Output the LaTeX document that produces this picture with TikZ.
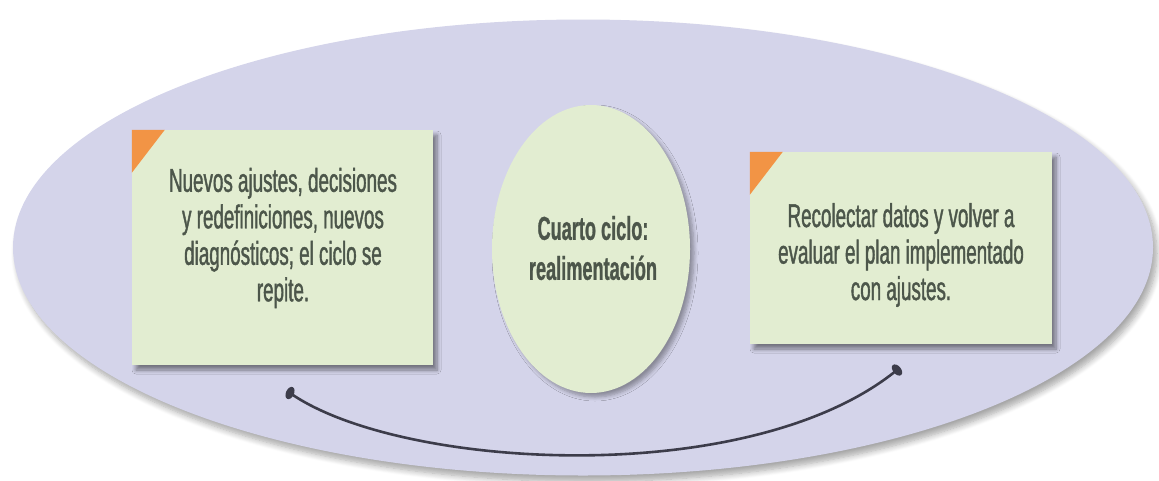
\documentclass[tikz,border=0pt]{standalone}
\usepackage{fontspec}
\newfontfamily\condfont{Liberation Sans}[FakeStretch=0.57,FakeBold=1.2]
\newfontfamily\condbold{Liberation Sans}[FakeStretch=0.55,FakeBold=0.8]
\usetikzlibrary{shapes.geometric,shadows.blur}
\definecolor{lav}{HTML}{D4D4EA}
\definecolor{boxgreen}{HTML}{E2EDD1}
\definecolor{corner}{HTML}{F29445}
\definecolor{txt}{HTML}{4C564A}
\definecolor{curvecol}{HTML}{3C3C4A}
\tikzset{
  bigoval/.style={ellipse, fill=lav, minimum width=1140, minimum height=456, inner sep=0pt,
    blur shadow={shadow xshift=4pt, shadow yshift=-6pt, shadow blur steps=8, shadow blur radius=6pt, shadow opacity=35}},
  notebox/.style={rectangle, fill=boxgreen, inner sep=0pt,
    blur shadow={shadow xshift=4pt, shadow yshift=-5pt, shadow blur steps=6, shadow blur radius=4pt, shadow opacity=45}},
  centeroval/.style={ellipse, fill=boxgreen, inner sep=0pt,
    blur shadow={shadow xshift=4pt, shadow yshift=-4pt, shadow blur steps=6, shadow blur radius=4pt, shadow opacity=35}},
  notetext/.style={text=txt, align=center, inner sep=0pt, font=\condfont\fontsize{33}{36.5}\selectfont},
  centertext/.style={text=txt, align=center, inner sep=0pt, font=\condbold\bfseries\fontsize{33}{40}\selectfont},
  linkdot/.style={ellipse, fill=curvecol, minimum width=8, minimum height=13, inner sep=0pt},
  link/.style={draw=curvecol, line width=2.6pt},
  cornermark/.style={fill=corner}
}
\begin{document}
\begin{tikzpicture}[x=1pt,y=-1pt]
\useasboundingbox (0,0) rectangle (1159,480);
\node[bigoval] (big) at (583,247.5) {};
% boxes
\node[notebox, minimum width=301, minimum height=235] (lbox) at (282.5,247.5) {};
\node[notebox, minimum width=302, minimum height=192] (rbox) at (901,248) {};
\node[centeroval, minimum width=198, minimum height=288] (mid) at (591,249) {};
% orange corners
\fill[cornermark] (lbox.north west) -- ++(33,0) -- ++(-33,43) -- cycle;
\fill[cornermark] (rbox.north west) -- ++(33,0) -- ++(-33,43) -- cycle;
% texts
\node[notetext] (ltext) at (283,238) {Nuevos ajustes, decisiones\\y redefiniciones, nuevos\\diagnósticos; el ciclo se\\repite.};
\node[notetext] (rtext) at (901,255) {Recolectar datos y volver a\\evaluar el plan implementado\\con ajustes.};
\node[centertext] (mtext) at (593,248) {Cuarto ciclo:\\realimentación};
% connector
\node[linkdot, rotate=-25] (d1) at (290,393) {};
\node[linkdot, rotate=40] (d2) at (897,370) {};
\draw[link] (d1.center) .. controls (400,470) and (750,490) .. (d2.center);
\end{tikzpicture}
\end{document}
